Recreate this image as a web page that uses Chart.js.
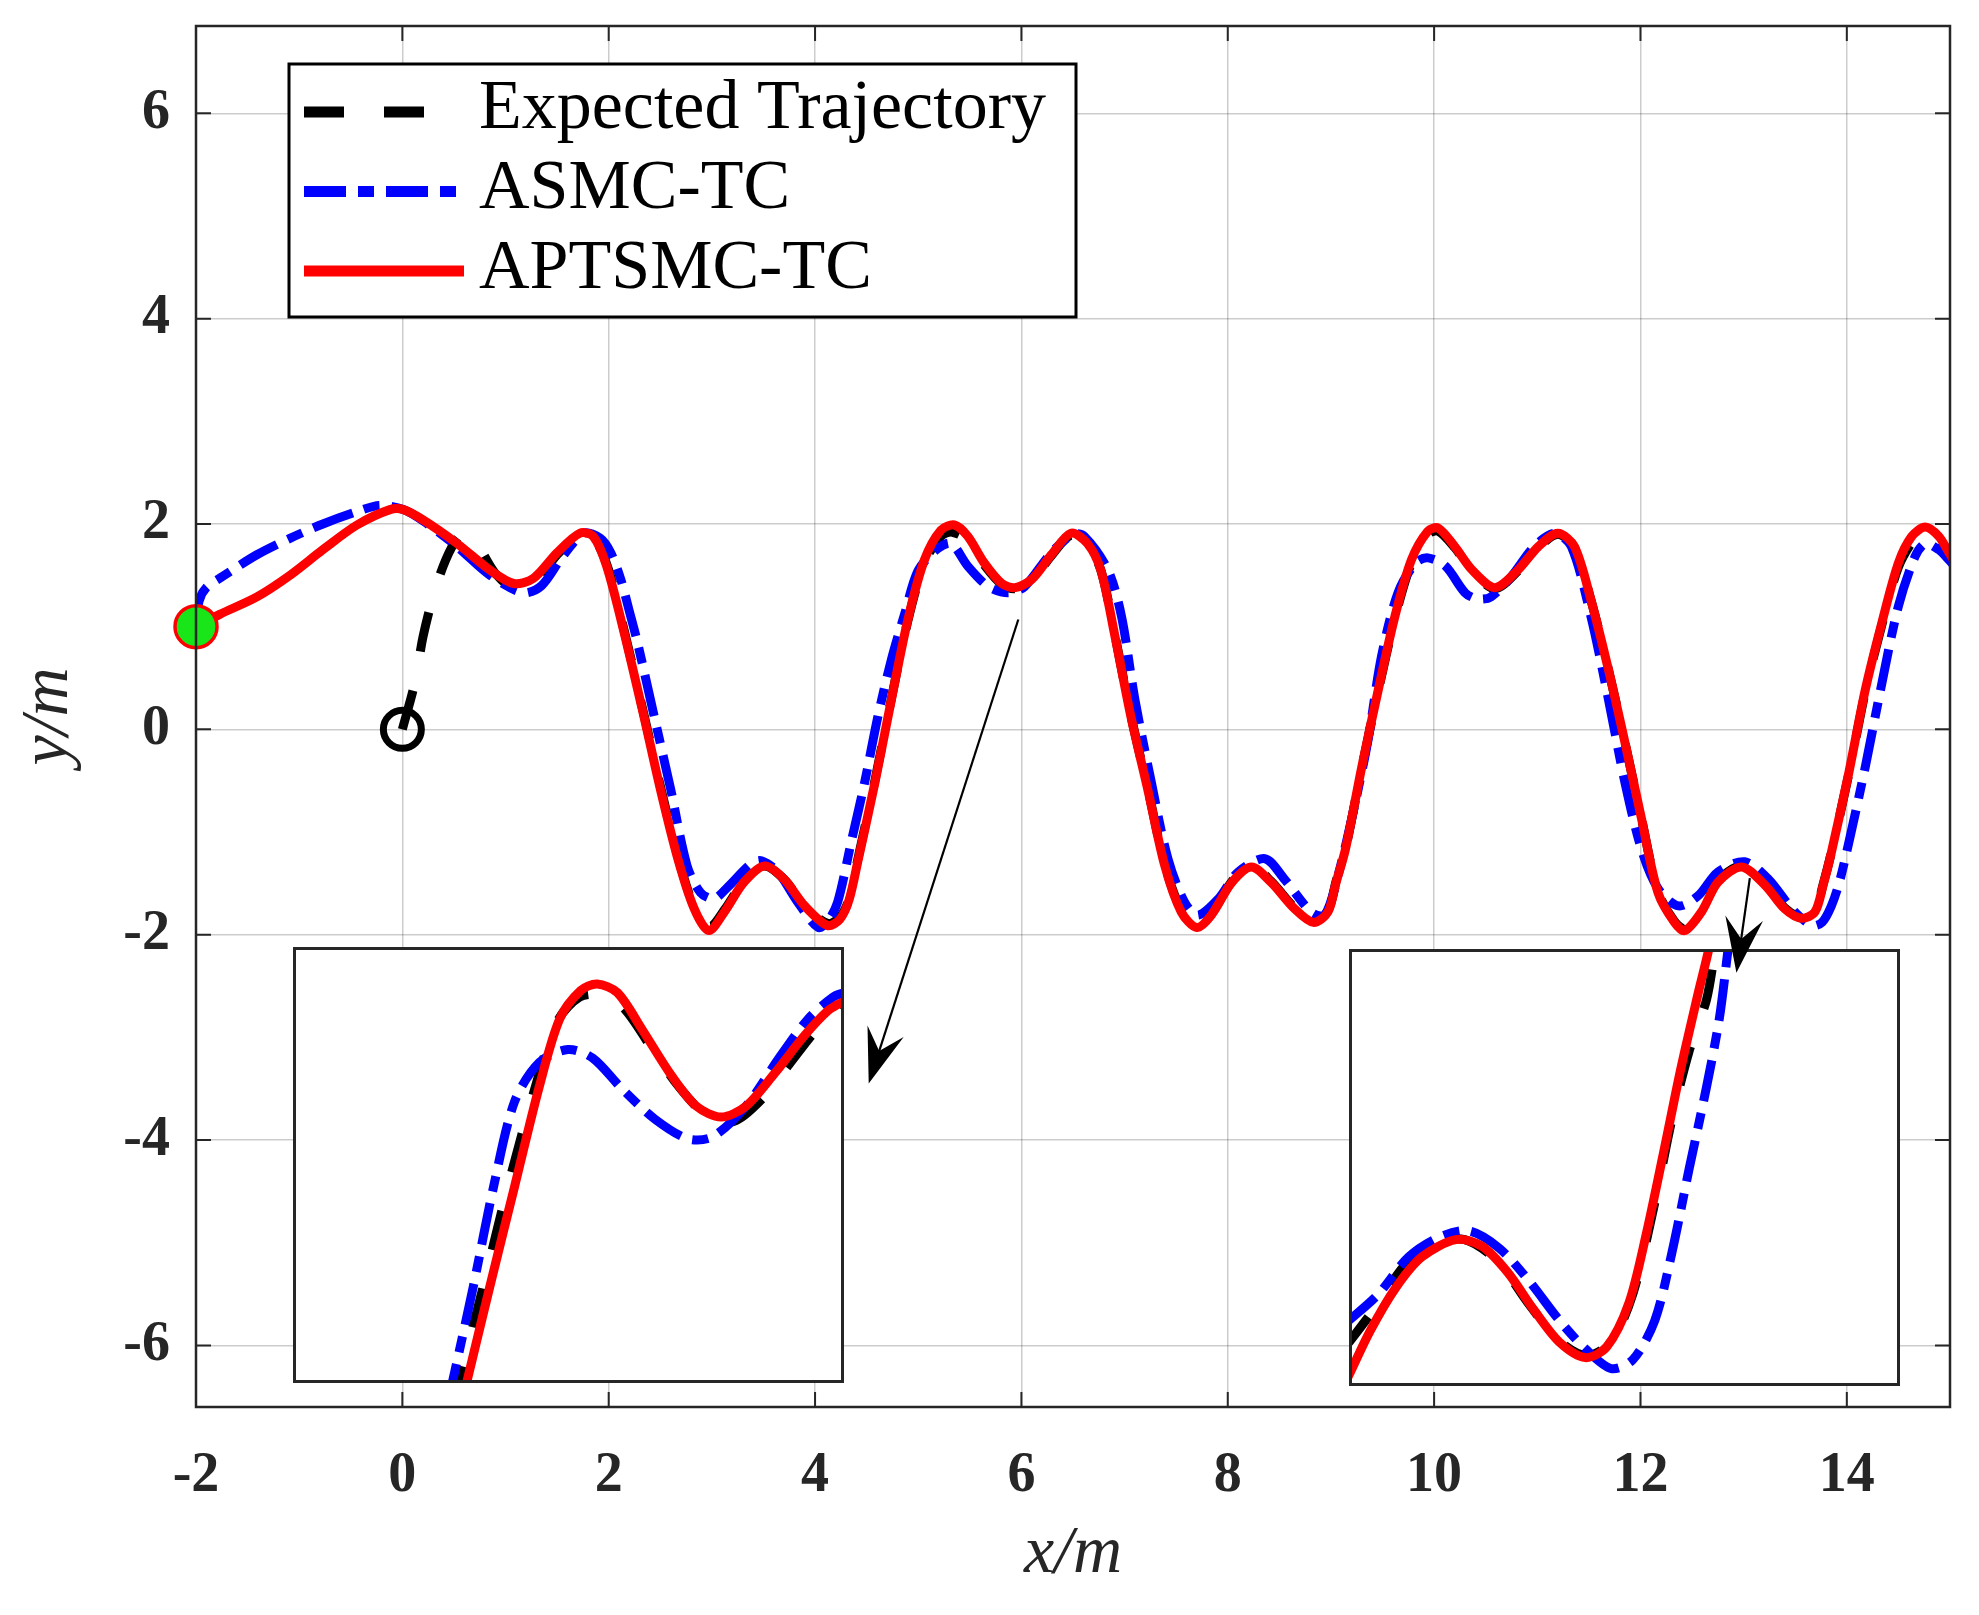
<!DOCTYPE html>
<html>
<head>
<meta charset="utf-8">
<title>Trajectory tracking</title>
<script src="https://cdn.jsdelivr.net/npm/chart.js@4.4.0/dist/chart.umd.min.js"></script>
<style>
  body { margin: 0; background: #fff; }
  #MyChart { display: block; }
  #insets { position: absolute; left: -5000px; top: 0; }
</style>
</head>
<body>
<canvas id="MyChart" width="1979" height="1615"></canvas>
<div id="insets">
  <canvas id="insetLeft" width="551" height="436"></canvas>
  <canvas id="insetRight" width="551" height="437"></canvas>
</div>
<script>
// axis ticks
const xTicks = [-2, 0, 2, 4, 6, 8, 10, 12, 14];
const yTicks = [-6, -4, -2, 0, 2, 4, 6];

// Expected Trajectory, starts from the origin
const expectedPath = [[0, 0], [0.12, 0.45], [0.2, 0.9], [0.3, 1.3], [0.42, 1.65], [0.55, 1.88], [0.65, 1.9], [0.72, 1.82],
  [0.9, 1.52], [1.1, 1.36], [1.25, 1.38], [1.5, 1.7], [1.73, 1.9], [1.86, 1.86], [2.0, 1.55], [2.16, 0.92], [2.34, 0.15],
  [2.5, -0.55], [2.67, -1.24], [2.83, -1.73], [2.98, -1.92], [3.12, -1.76], [3.31, -1.48], [3.51, -1.33], [3.7, -1.46],
  [3.9, -1.72], [4.12, -1.89], [4.24, -1.83], [4.33, -1.65], [4.42, -1.24], [4.58, -0.5], [4.74, 0.3], [4.9, 1.06], [5.06, 1.62],
  [5.22, 1.88], [5.33, 1.92], [5.48, 1.84], [5.64, 1.6], [5.81, 1.41], [5.94, 1.37], [6.1, 1.45], [6.29, 1.69],
  [6.48, 1.89], [6.64, 1.8], [6.77, 1.55], [6.9, 0.95], [7.06, 0.14], [7.23, -0.6], [7.39, -1.32], [7.55, -1.76],
  [7.7, -1.91], [7.84, -1.8], [8.04, -1.48], [8.23, -1.33], [8.42, -1.48], [8.65, -1.74], [8.83, -1.87], [8.97, -1.77],
  [9.05, -1.48], [9.14, -1.17], [9.3, -0.37], [9.46, 0.38], [9.62, 1.08], [9.78, 1.62], [9.94, 1.9], [10.04, 1.93], [10.2, 1.77],
  [10.37, 1.54], [10.59, 1.37], [10.81, 1.54], [11.01, 1.77], [11.2, 1.9], [11.36, 1.77], [11.52, 1.26], [11.69, 0.58],
  [11.85, -0.13], [12.01, -0.87], [12.17, -1.58], [12.33, -1.87], [12.43, -1.94], [12.59, -1.77], [12.75, -1.48],
  [12.98, -1.33], [13.21, -1.51], [13.4, -1.74], [13.56, -1.83], [13.69, -1.77], [13.77, -1.51], [13.85, -1.2], [14.02, -0.43],
  [14.18, 0.37], [14.34, 1.02], [14.5, 1.58], [14.66, 1.86], [14.76, 1.92], [14.89, 1.85], [14.99, 1.7], [15.05, 1.6]];

// ASMC-TC
const asmcPath = [[-2.0, 1.0], [-1.97, 1.25], [-1.9, 1.38], [-1.74, 1.49], [-1.41, 1.7], [-1.09, 1.86], [-0.77, 2.0],
  [-0.44, 2.12], [-0.22, 2.18], [0.01, 2.14], [0.2, 2.03], [0.53, 1.78], [0.85, 1.5], [1.17, 1.33], [1.35, 1.4],
  [1.55, 1.68], [1.76, 1.91], [1.92, 1.86], [2.02, 1.72], [2.12, 1.45], [2.2, 1.15], [2.28, 0.84], [2.44, 0.13],
  [2.6, -0.58], [2.76, -1.33], [2.89, -1.59], [3.02, -1.65], [3.15, -1.54], [3.38, -1.31], [3.48, -1.28], [3.64, -1.39],
  [3.83, -1.68], [4.03, -1.93], [4.13, -1.86], [4.22, -1.68], [4.35, -1.1], [4.48, -0.52], [4.61, 0.13], [4.74, 0.68],
  [4.87, 1.13], [5.0, 1.55], [5.19, 1.76], [5.32, 1.81], [5.48, 1.59], [5.68, 1.39], [5.87, 1.33], [6.03, 1.39],
  [6.29, 1.72], [6.5, 1.9], [6.61, 1.88], [6.84, 1.55], [6.97, 1.1], [7.1, 0.29], [7.26, -0.52], [7.42, -1.26],
  [7.58, -1.68], [7.71, -1.81], [7.91, -1.65], [8.1, -1.39], [8.36, -1.26], [8.55, -1.46], [8.81, -1.78], [8.94, -1.81],
  [9.07, -1.42], [9.23, -0.74], [9.36, -0.1], [9.49, 0.71], [9.65, 1.33], [9.82, 1.62], [9.94, 1.67], [10.11, 1.59],
  [10.3, 1.33], [10.42, 1.27], [10.55, 1.29], [10.75, 1.49], [10.97, 1.78], [11.17, 1.91], [11.33, 1.78], [11.52, 1.1],
  [11.69, 0.29], [11.85, -0.52], [12.01, -1.17], [12.17, -1.55], [12.37, -1.72], [12.56, -1.62], [12.75, -1.39],
  [13.01, -1.29], [13.24, -1.46], [13.47, -1.75], [13.66, -1.91], [13.76, -1.88], [13.85, -1.72], [13.93, -1.48],
  [14.02, -1.1], [14.18, -0.36], [14.34, 0.45], [14.5, 1.2], [14.66, 1.68], [14.76, 1.81], [14.89, 1.75], [14.99, 1.65],
  [15.05, 1.58]];

// APTSMC-TC
const aptsmcPath = [[-2.0, 1.0], [-1.77, 1.12], [-1.41, 1.29], [-1.09, 1.5], [-0.77, 1.75], [-0.44, 1.99], [-0.12, 2.14],
  [0.01, 2.14], [0.2, 2.04], [0.53, 1.81], [0.85, 1.55], [1.08, 1.42], [1.27, 1.47], [1.5, 1.72], [1.72, 1.91],
  [1.85, 1.88], [1.98, 1.59], [2.15, 0.94], [2.34, 0.13], [2.5, -0.58], [2.67, -1.26], [2.83, -1.75], [2.97, -1.96],
  [3.12, -1.78], [3.31, -1.49], [3.51, -1.33], [3.7, -1.46], [3.9, -1.72], [4.12, -1.91], [4.24, -1.85], [4.33, -1.66],
  [4.42, -1.26], [4.58, -0.52], [4.74, 0.29], [4.9, 1.07], [5.06, 1.65], [5.22, 1.94], [5.35, 1.99], [5.48, 1.88], [5.64, 1.62],
  [5.81, 1.42], [5.94, 1.38], [6.1, 1.46], [6.29, 1.7], [6.48, 1.91], [6.64, 1.81], [6.77, 1.55], [6.9, 0.94],
  [7.06, 0.13], [7.23, -0.61], [7.39, -1.33], [7.55, -1.78], [7.7, -1.93], [7.84, -1.81], [8.04, -1.49], [8.23, -1.34],
  [8.42, -1.49], [8.65, -1.75], [8.83, -1.88], [8.97, -1.78], [9.05, -1.49], [9.14, -1.17], [9.3, -0.36], [9.46, 0.39], [9.62, 1.1],
  [9.78, 1.65], [9.94, 1.93], [10.04, 1.96], [10.2, 1.78], [10.37, 1.55], [10.59, 1.38], [10.81, 1.55], [11.01, 1.78],
  [11.2, 1.91], [11.36, 1.78], [11.52, 1.26], [11.69, 0.58], [11.85, -0.13], [12.01, -0.87], [12.17, -1.59],
  [12.33, -1.88], [12.43, -1.96], [12.59, -1.78], [12.75, -1.49], [12.98, -1.34], [13.21, -1.52], [13.4, -1.75],
  [13.56, -1.84], [13.69, -1.78], [13.77, -1.52], [13.85, -1.2], [14.02, -0.42], [14.18, 0.39], [14.34, 1.04], [14.5, 1.62],
  [14.63, 1.88], [14.76, 1.97], [14.89, 1.88], [14.99, 1.72], [15.05, 1.62]];

const startPoint = [-2, 1];
const expectedStart = [0, 0];

// zoomed views (left and right insets)
const leftRange = [4.5, 6.5, 0.1, 2.1];
const leftExpected = [[5.08, 0.0], [5.1, 0.1], [5.19, 0.54], [5.28, 1.0], [5.38, 1.46], [5.46, 1.76], [5.54, 1.87], [5.62, 1.88],
  [5.7, 1.82], [5.8, 1.64], [5.9, 1.46], [6.0, 1.33], [6.1, 1.3], [6.2, 1.4], [6.3, 1.56], [6.4, 1.72], [6.5, 1.84], [6.55, 1.88]];
const leftAsmc = [[5.06, 0.0], [5.078, 0.1], [5.154, 0.54], [5.228, 1.0], [5.304, 1.39], [5.394, 1.57], [5.498, 1.63],
  [5.588, 1.59], [5.694, 1.45], [5.814, 1.31], [5.934, 1.22], [6.024, 1.23], [6.144, 1.37], [6.264, 1.59], [6.37, 1.77],
  [6.46, 1.87], [6.5, 1.89], [6.55, 1.91]];
const leftAptsmc = [[5.11, 0.0], [5.13, 0.1], [5.214, 0.54], [5.304, 1.0], [5.394, 1.46], [5.468, 1.77], [5.544, 1.9],
  [5.604, 1.93], [5.678, 1.89], [5.768, 1.72], [5.874, 1.51], [5.964, 1.37], [6.054, 1.32], [6.144, 1.37], [6.248, 1.52],
  [6.354, 1.69], [6.444, 1.81], [6.5, 1.85], [6.55, 1.87]];

const rightRange = [11, 13, -2, 0];
const rightExpected = [[10.98, -1.83], [11.0, -1.8], [11.09, -1.65], [11.2, -1.45], [11.294, -1.35], [11.42, -1.33],
  [11.54, -1.43], [11.65, -1.62], [11.76, -1.79], [11.86, -1.86], [11.95, -1.8], [12.03, -1.58], [12.11, -1.16],
  [12.172, -0.78], [12.234, -0.47], [12.298, -0.23], [12.33, 0.0], [12.34, 0.05]];
const rightAsmc = [[10.98, -1.72], [11.0, -1.7], [11.106, -1.58], [11.216, -1.41], [11.326, -1.32], [11.436, -1.29],
  [11.546, -1.37], [11.654, -1.52], [11.764, -1.7], [11.858, -1.83], [11.952, -1.92], [12.03, -1.88], [12.11, -1.7],
  [12.172, -1.39], [12.234, -1.01], [12.298, -0.63], [12.344, -0.32], [12.376, 0.0], [12.38, 0.05]];
const rightAptsmc = [[10.98, -2.0], [11.0, -1.95], [11.076, -1.75], [11.17, -1.55], [11.264, -1.41], [11.388, -1.33],
  [11.482, -1.36], [11.576, -1.48], [11.67, -1.65], [11.764, -1.8], [11.858, -1.87], [11.936, -1.82], [12.016, -1.62],
  [12.078, -1.31], [12.142, -0.93], [12.204, -0.55], [12.266, -0.21], [12.306, 0.0], [12.31, 0.05]];

// arrows pointing at the insets
const arrowFrom = [[5.97, 1.07], [13.06, -1.45]];
const arrowTo = [[4.52, -3.45], [12.93, -2.37]];

const ink = '#262626';
const serif = "'Liberation Serif', 'Times New Roman', serif";

function points(path) {
  return path.map(function (p) { return { x: p[0], y: p[1] }; });
}

function curve(label, path, color, dash, order) {
  return {
    label: label,
    data: points(path),
    showLine: true,
    borderColor: color,
    backgroundColor: color,
    borderWidth: 9,
    borderDash: dash,
    borderCapStyle: dash.length ? 'butt' : 'round',
    borderJoinStyle: 'round',
    pointRadius: 0,
    tension: 0.3,
    clip: 0,
    order: order,
    inLegend: true,
  };
}

function makeInset(id, range, exp, asmc, apt) {
  const ctx = document.getElementById(id).getContext('2d');
  return new Chart(ctx, {
    type: 'scatter',
    data: {
      datasets: [
        curve('Expected Trajectory', exp, '#000000', [40, 40], 3),
        curve('ASMC-TC', asmc, '#0000ff', [42, 12, 16, 12], 2),
        curve('APTSMC-TC', apt, '#ff0000', [], 1),
      ],
    },
    options: {
      responsive: false,
      animation: false,
      devicePixelRatio: 1,
      events: [],
      layout: { padding: 0 },
      plugins: { legend: { display: false }, tooltip: { enabled: false } },
      scales: {
        x: { type: 'linear', display: false, min: range[0], max: range[1] },
        y: { type: 'linear', display: false, min: range[2], max: range[3] },
      },
    },
    plugins: [{
      id: 'insetFrame',
      beforeDraw(chart) {
        chart.ctx.save();
        chart.ctx.fillStyle = '#fff';
        chart.ctx.fillRect(0, 0, chart.width, chart.height);
        chart.ctx.restore();
      },
      afterDatasetsDraw(chart) {
        const c = chart.ctx;
        c.save();
        c.strokeStyle = ink;
        c.lineWidth = 3;
        c.strokeRect(1.5, 1.5, chart.width - 3, chart.height - 3);
        c.restore();
      },
    }],
  });
}

const insetLeft = makeInset('insetLeft', leftRange, leftExpected, leftAsmc, leftAptsmc);
const insetRight = makeInset('insetRight', rightRange, rightExpected, rightAsmc, rightAptsmc);
const insetPlaces = [[insetLeft, 293, 947], [insetRight, 1349, 949]];

function drawArrow(c, x0, y0, x1, y1) {
  const ang = Math.atan2(y1 - y0, x1 - x0);
  const len = 55, half = 19;
  c.beginPath();
  c.moveTo(x0, y0);
  c.lineTo(x1 - Math.cos(ang) * len * 0.6, y1 - Math.sin(ang) * len * 0.6);
  c.stroke();
  c.save();
  c.translate(x1, y1);
  c.rotate(ang);
  c.beginPath();
  c.moveTo(0, 0);
  c.lineTo(-len, -half);
  c.lineTo(-len * 0.62, 0);
  c.lineTo(-len, half);
  c.closePath();
  c.fill();
  c.restore();
}

const framePlugin = {
  id: 'frame',
  beforeDraw(chart) {
    chart.ctx.save();
    chart.ctx.fillStyle = '#fff';
    chart.ctx.fillRect(0, 0, chart.width, chart.height);
    chart.ctx.restore();
  },
  afterDatasetsDraw(chart) {
    const c = chart.ctx;
    const a = chart.chartArea;
    const x = chart.scales.x, y = chart.scales.y;

    // zoomed views
    insetPlaces.forEach(function (p) { c.drawImage(p[0].canvas, p[1], p[2]); });

    // box and inner ticks
    c.save();
    c.strokeStyle = ink;
    c.lineWidth = 2.5;
    c.strokeRect(a.left, a.top, a.right - a.left, a.bottom - a.top);
    c.lineWidth = 2;
    c.beginPath();
    xTicks.forEach(function (v) {
      const px = x.getPixelForValue(v);
      c.moveTo(px, a.bottom); c.lineTo(px, a.bottom - 15);
      c.moveTo(px, a.top); c.lineTo(px, a.top + 15);
    });
    yTicks.forEach(function (v) {
      const py = y.getPixelForValue(v);
      c.moveTo(a.left, py); c.lineTo(a.left + 15, py);
      c.moveTo(a.right, py); c.lineTo(a.right - 15, py);
    });
    c.stroke();
    c.restore();

    // legend
    const items = chart.data.datasets.filter(function (d) { return d.inLegend; });
    c.save();
    c.fillStyle = '#fff';
    c.fillRect(289, 64, 787, 253);
    c.strokeStyle = '#000';
    c.lineWidth = 3;
    c.strokeRect(289, 64, 787, 253);
    items.forEach(function (d, i) {
      const ly = 112 + i * 79.5;
      c.strokeStyle = d.borderColor;
      c.lineWidth = 11;
      c.lineCap = 'butt';
      c.setLineDash(d.borderDash);
      c.beginPath();
      c.moveTo(304, ly);
      c.lineTo(464, ly);
      c.stroke();
      c.setLineDash([]);
      c.fillStyle = '#000';
      c.font = '70px ' + serif;
      c.textBaseline = 'alphabetic';
      c.fillText(d.label, 479, 128 + i * 80);
    });
    c.restore();

    // arrows
    c.save();
    c.strokeStyle = '#000';
    c.fillStyle = '#000';
    c.lineWidth = 2.2;
    arrowFrom.forEach(function (f, i) {
      const t = arrowTo[i];
      drawArrow(c, x.getPixelForValue(f[0]), y.getPixelForValue(f[1]),
        x.getPixelForValue(t[0]), y.getPixelForValue(t[1]));
    });
    c.restore();
  },
};

var ctx = document.getElementById('MyChart').getContext('2d');
var chartObject = {};
chartObject.chart = new Chart(ctx, {
  type: 'scatter',
  data: {
    datasets: [
      curve('Expected Trajectory', expectedPath, '#000000', [40, 40], 3),
      curve('ASMC-TC', asmcPath, '#0000ff', [42, 12, 16, 12], 2),
      curve('APTSMC-TC', aptsmcPath, '#ff0000', [], 1),
      {
        label: 'start',
        data: [{ x: startPoint[0], y: startPoint[1] }],
        pointRadius: 21,
        pointBackgroundColor: '#19e619',
        pointBorderColor: '#ff0000',
        pointBorderWidth: 3.5,
        clip: false,
        order: 0,
      },
      {
        label: 'reference start',
        data: [{ x: expectedStart[0], y: expectedStart[1] }],
        pointRadius: 19,
        pointBackgroundColor: 'rgba(0,0,0,0)',
        pointBorderColor: '#000000',
        pointBorderWidth: 7,
        clip: false,
        order: 0,
      },
    ],
  },
  options: {
    responsive: false,
    animation: false,
    devicePixelRatio: 1,
    events: [],
    layout: { padding: { left: 0, right: 29, top: 23, bottom: 0 } },
    plugins: { legend: { display: false }, tooltip: { enabled: false } },
    scales: {
      x: {
        type: 'linear',
        min: -2,
        max: 15,
        afterBuildTicks: function (s) { s.ticks = xTicks.map(function (v) { return { value: v }; }); },
        afterFit: function (s) { s.height = 208; s.paddingLeft = 0; s.paddingRight = 0; },
        grid: { color: 'rgba(0,0,0,0.2)', lineWidth: 1.5, drawTicks: false },
        border: { display: false },
        ticks: {
          color: ink,
          padding: 36,
          maxRotation: 0,
          font: { family: serif, size: 56, weight: 'bold' },
        },
        title: {
          display: true,
          text: 'x/m',
          color: ink,
          padding: { top: 0, bottom: 20 },
          font: { family: serif, size: 68, style: 'italic' },
        },
      },
      y: {
        type: 'linear',
        min: -6.6,
        max: 6.85,
        afterBuildTicks: function (s) { s.ticks = yTicks.map(function (v) { return { value: v }; }); },
        afterFit: function (s) { s.width = 196; s.paddingTop = 0; s.paddingBottom = 0; },
        grid: { color: 'rgba(0,0,0,0.2)', lineWidth: 1.5, drawTicks: false },
        border: { display: false },
        ticks: {
          color: ink,
          padding: 26,
          font: { family: serif, size: 56, weight: 'bold' },
        },
        title: {
          display: true,
          text: 'y/m',
          color: ink,
          padding: { top: 8, bottom: 0 },
          font: { family: serif, size: 68, style: 'italic' },
        },
      },
    },
  },
  plugins: [framePlugin],
});
</script>
</body>
</html>
